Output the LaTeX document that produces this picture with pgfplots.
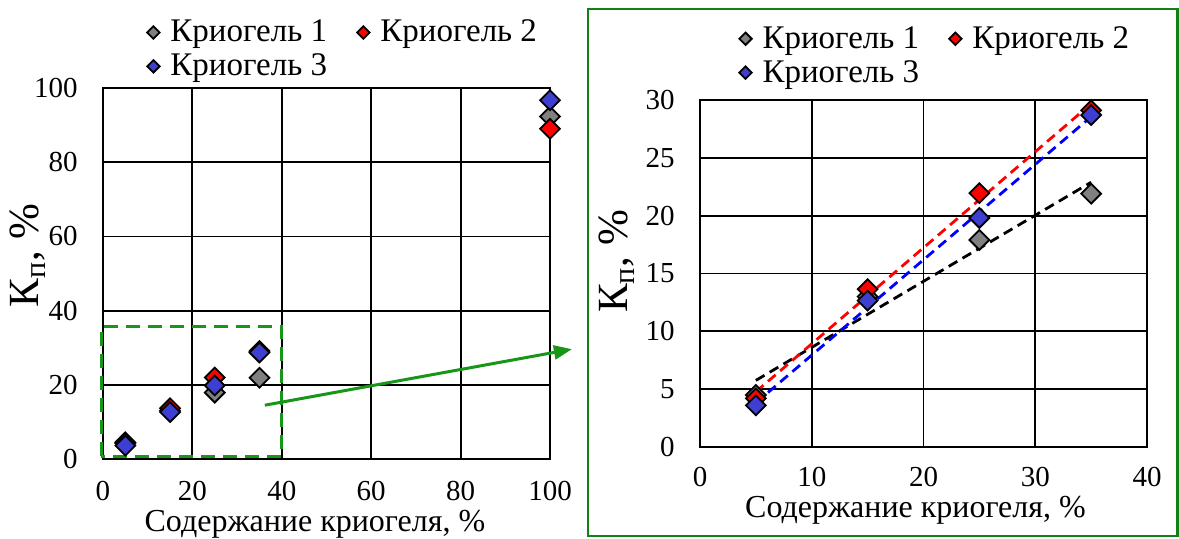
\documentclass[border=0pt]{standalone}
\usepackage{fontspec}
\setmainfont{Liberation Serif}
\usepackage{pgfplots}
\usepackage{pgfplotstable}
\pgfplotsset{compat=1.18}
\usetikzlibrary{arrows.meta}

\definecolor{kgray}{RGB}{128,128,128}
\definecolor{kred}{RGB}{255,0,0}
\definecolor{kblue}{RGB}{62,62,208}
\definecolor{lblue}{RGB}{0,0,255}
\definecolor{zgreen}{RGB}{24,150,24}
\definecolor{fgreen}{RGB}{18,128,18}

% Kп, % at 5-35 % cryogel
\pgfplotstableread{
x y
5  4.5
15 13.0
25 17.9
35 21.9
}\kone
\pgfplotstableread{
x y
5  4.2
15 13.65
25 21.95
35 29.1
}\ktwo
\pgfplotstableread{
x y
5  3.6
15 12.65
25 19.8
35 28.7
}\kthree
% pure cryogel (100 %)
\pgfplotstableread{
x s1 s2 s3
100 92.3 89.0 96.7
}\kfull

\pgfplotsset{
  kbase/.style={
    scale only axis,
    axis line style={black, line width=0.9pt},
    grid=major,
    major grid style={black, line width=0.9pt},
    major tick length=0pt,
    tick style={draw=none},
    /pgf/number format/assume math mode=true,
    ticklabel style={font=\fontsize{14.5}{15}\selectfont},
    xticklabel style={anchor=center, inner sep=0pt, yshift=-15.8pt},
    yticklabel style={anchor=east, inner sep=0pt, xshift=-12.5pt},
    xlabel={Содержание криогеля, \%},
    ylabel={К\textsubscript{п}, \%},
    xlabel style={font=\fontsize{16}{17}\selectfont, anchor=center, inner sep=0pt},
    ylabel style={font=\fontsize{21.5}{23}\selectfont, anchor=center, rotate=0, inner sep=0pt},
    legend columns=2,
    legend cell align=left,
    legend style={draw=none, fill=none, inner sep=0pt, anchor=north west,
      font=\fontsize{16.5}{17}\selectfont,
      /tikz/every even column/.append style={column sep=13pt},
      row sep=0.5pt},
    legend image code/.code={%
      \draw[##1, mark size=2.2pt] plot coordinates {(0.2cm,0cm)};
      \path[draw=none, fill=none] (0.2cm,0cm) -- (0.2cm+6.5pt,0cm);},
    clip=false,
  },
  mk/.style={only marks, mark=square*, mark size=3.5pt,
    mark options={rotate=45, draw=black, line width=0.9pt, fill=#1}},
  trend/.style={#1, line width=1.4pt, dash pattern=on 5pt off 3pt},
}

\begin{document}
\begin{tikzpicture}
\useasboundingbox (0,0) rectangle (589.5pt,269pt);

% overview: 0-100 %
\begin{axis}[kbase,
  at={(51.5pt,39.5pt)}, anchor=south west,
  width=223.5pt, height=185.5pt,
  xmin=0, xmax=100, ymin=0, ymax=100,
  xtick={0,20,...,100}, ytick={0,20,...,100},
  xlabel style={at={(axis description cs:0.474,-0.175)}},
  ylabel style={at={(axis description cs:-0.168,0.548)}},
  legend style={at={(axis description cs:0.098,1.195)}},
]
\addplot[mk=kgray] table[x=x,y=y] {\kone};
\addlegendentry{Криогель 1}
\addplot[mk=kred] table[x=x,y=y] {\ktwo};
\addlegendentry{Криогель 2}
\addplot[mk=kblue] table[x=x,y=y] {\kthree};
\addlegendentry{Криогель 3}
\addplot[mk=kgray, forget plot] table[x=x,y=s1] {\kfull};
\addplot[mk=kred, forget plot] table[x=x,y=s2] {\kfull};
\addplot[mk=kblue, forget plot] table[x=x,y=s3] {\kfull};
% zoomed region and pointer
\draw[zgreen, line width=1.5pt, dash pattern=on 7pt off 4pt]
  (axis cs:-0.4,0.8) rectangle (axis cs:40,35.6);
\draw[zgreen, line width=1.5pt, -{Triangle[length=9pt,width=7pt]}]
  (axis cs:36.2,14.5) -- (axis cs:104.9,29.6);
\end{axis}

% detail: 0-40 % with linear trends
\begin{axis}[kbase,
  at={(350pt,45.5pt)}, anchor=south west,
  width=223.5pt, height=173.5pt,
  xmin=0, xmax=40, ymin=0, ymax=30,
  xtick={0,10,...,40}, ytick={0,5,...,30},
  xticklabel style={yshift=0.8pt},
  xlabel style={at={(axis description cs:0.482,-0.182)}},
  ylabel style={at={(axis description cs:-0.186,0.535)}},
  legend style={at={(axis description cs:0.087,1.225)}},
]
\addplot[mk=kgray] table[x=x,y=y] {\kone};
\addlegendentry{Криогель 1}
\addplot[mk=kred] table[x=x,y=y] {\ktwo};
\addlegendentry{Криогель 2}
\addplot[mk=kblue] table[x=x,y=y] {\kthree};
\addlegendentry{Криогель 3}
\addplot[trend=black, forget plot] table[x=x, y={create col/linear regression={y=y}}] {\kone};
\addplot[trend=kred, forget plot] table[x=x, y={create col/linear regression={y=y}}] {\ktwo};
\addplot[trend=lblue, forget plot] table[x=x, y={create col/linear regression={y=y}}] {\kthree};
\end{axis}

\draw[fgreen, line width=1.2pt] (294pt,1pt) rectangle (588.7pt,264.5pt);
\end{tikzpicture}
\end{document}
